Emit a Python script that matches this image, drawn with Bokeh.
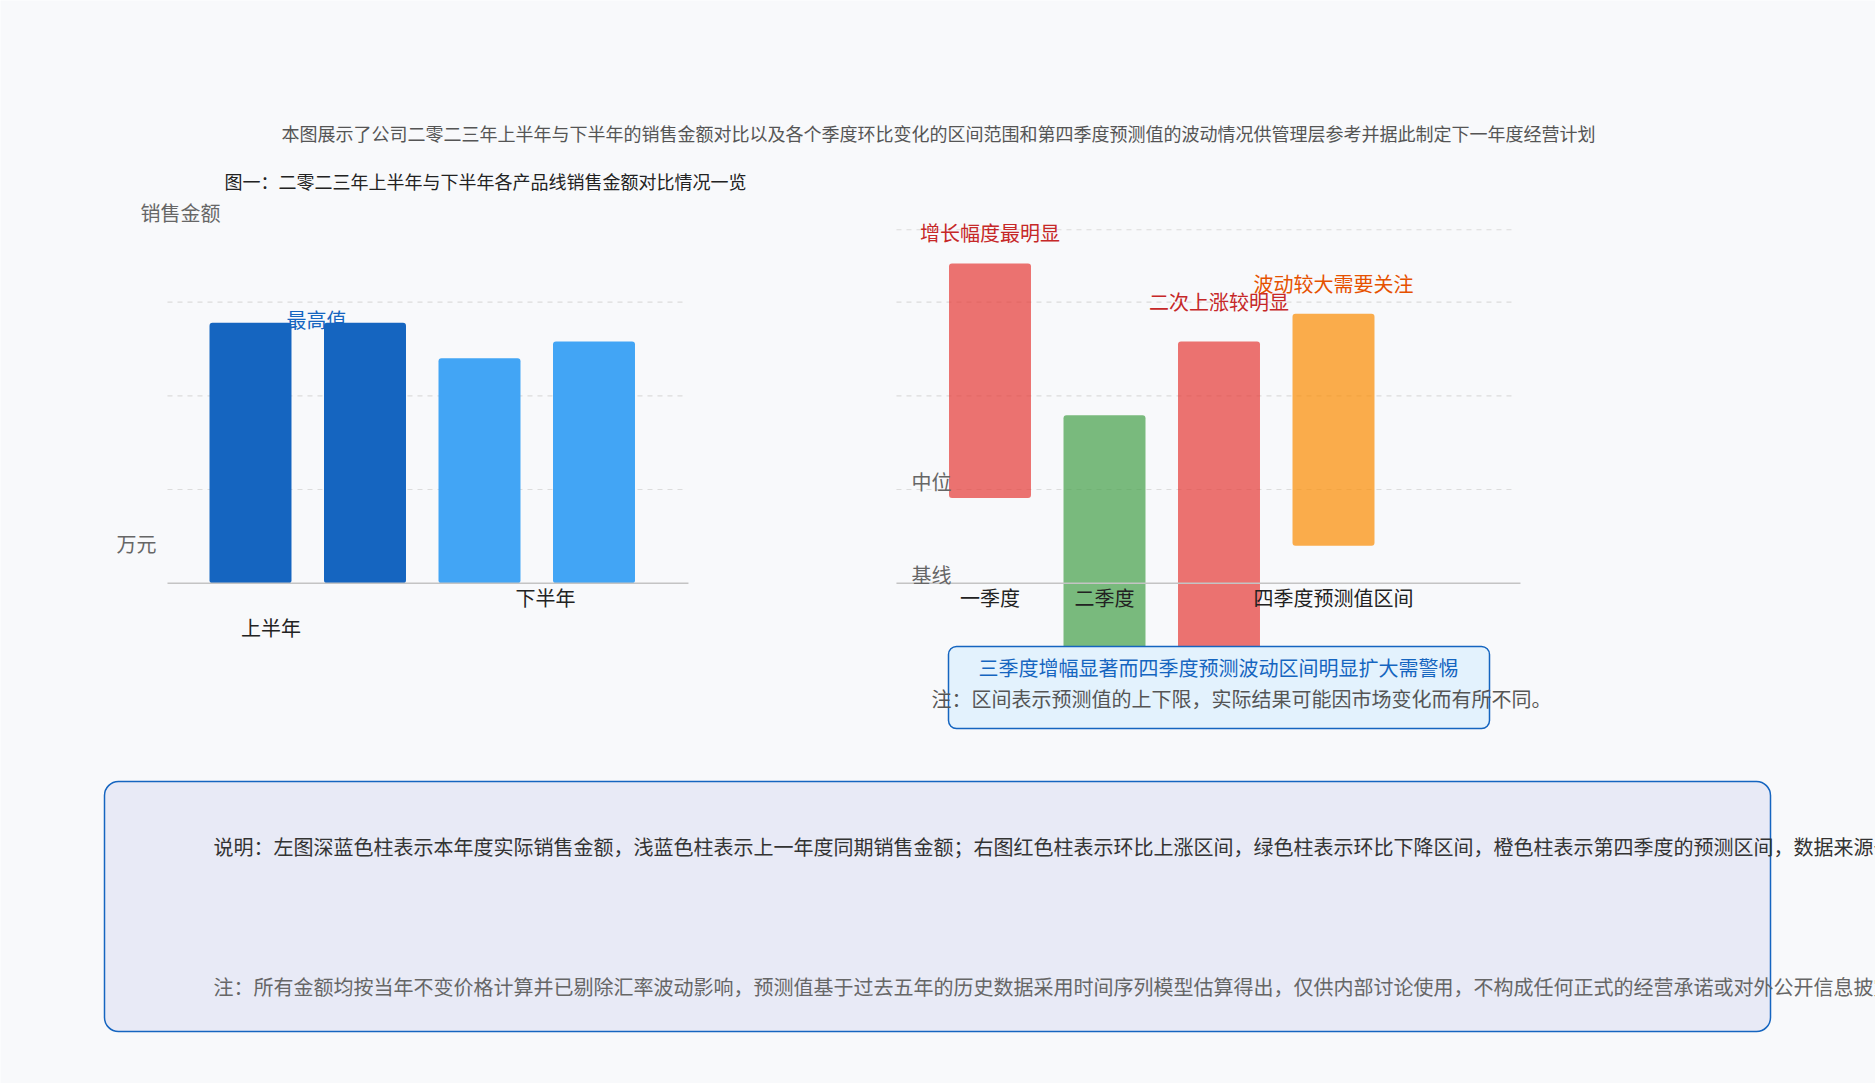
from bokeh.plotting import figure
from bokeh.models import Range1d, Label, BoxAnnotation
from bokeh.core.properties import value
from bokeh.embed import file_html
from bokeh.resources import INLINE

# ---------------- data ----------------
title_main = "本图展示了公司二零二三年上半年与下半年的销售金额对比以及各个季度环比变化的区间范围和第四季度预测值的波动情况供管理层参考并据此制定下一年度经营计划"
title_left = "图一：二零二三年上半年与下半年各产品线销售金额对比情况一览"
left_axis_title = "销售金额"
left_axis_unit = "万元"
left_groups = ["上半年", "下半年"]
left_note = "最高值"
left_x = [0, 1, 2, 3]
left_values = [69.5, 69.5, 60.0, 64.5]
left_series = ["dark", "dark", "light", "light"]

right_items = ["一季度", "二季度", "", "四季度预测值区间"]
right_x = [0, 1, 2, 3]
right_low = [22.7, -25.0, -25.0, 10.0]
right_high = [85.3, 44.8, 64.5, 71.9]
right_kind = ["up", "down", "up", "warn"]
right_notes = ["增长幅度最明显", "", "二次上涨较明显", "波动较大需要关注"]
right_axis_labels = ["中位", "基线"]

callout_title = "三季度增幅显著而四季度预测波动区间明显扩大需警惕"
callout_text = "注：区间表示预测值的上下限，实际结果可能因市场变化而有所不同。"
note_line1 = "说明：左图深蓝色柱表示本年度实际销售金额，浅蓝色柱表示上一年度同期销售金额；右图红色柱表示环比上涨区间，绿色柱表示环比下降区间，橙色柱表示第四季度的预测区间，数据来源于公司财务部门季度报告"
note_line2 = "注：所有金额均按当年不变价格计算并已剔除汇率波动影响，预测值基于过去五年的历史数据采用时间序列模型估算得出，仅供内部讨论使用，不构成任何正式的经营承诺或对外公开信息披露"

left_grid = [25, 50, 75]
right_grid = [25, 50, 75, 94.3]

# ---------------- style / layout ----------------
W, H = 1875, 1083
BG = "#f8f9fb"
FONT = "Noto Sans CJK SC"
FS_TITLE = 18
FS = 20
DY = -1.5             # small vertical nudge for all texts
PX_X = 114.5          # pixels per category step
LEFT_X0 = 250.0       # pixel x of left category 0
RIGHT_X0 = 989.5      # pixel x of right category 0
Y0 = 582.7            # pixel y (from top) of value 0
PX_Y = 3.748          # pixels per value unit
BAR_W = 0.716
LEFT_SPAN = (-0.725, 3.80, 3.825)
RIGHT_SPAN = (-0.817, 4.59, 4.633)
series_color = {"dark": "#1565c0", "light": "#42a5f5"}
kind_color = {"up": "#e53935", "down": "#43a047", "warn": "#fb8c00"}
note_color = {"up": "#c62828", "down": "#2e7d32", "warn": "#e65100"}
note_dy = [29, 0, 38.5, 29]

p = figure(width=W, height=H,
           x_range=Range1d(-LEFT_X0 / PX_X, (W - LEFT_X0) / PX_X),
           y_range=Range1d(-(H - Y0) / PX_Y, Y0 / PX_Y),
           output_backend="svg", toolbar_location=None, min_border=0,
           x_axis_location=None, y_axis_location=None,
           background_fill_color=BG, border_fill_color=BG,
           outline_line_color=None)
p.extra_x_ranges = {"right": Range1d(-RIGHT_X0 / PX_X, (W - RIGHT_X0) / PX_X)}
p.xgrid.visible = False
p.ygrid.visible = False

# grid lines
p.segment(x0=[LEFT_SPAN[0]] * len(left_grid), x1=[LEFT_SPAN[1]] * len(left_grid),
          y0=left_grid, y1=left_grid, line_color="#dcdcdc", line_width=1.2, line_dash="5 5")
p.segment(x0=[RIGHT_SPAN[0]] * len(right_grid), x1=[RIGHT_SPAN[1]] * len(right_grid),
          y0=right_grid, y1=right_grid, line_color="#dcdcdc", line_width=1.2, line_dash="5 5",
          x_range_name="right")

# bars
p.vbar(x=left_x, top=left_values, bottom=0, width=BAR_W,
       fill_color=[series_color[s] for s in left_series], line_color=None, border_radius=3)
p.vbar(x=right_x, top=right_high, bottom=right_low, width=BAR_W,
       fill_color=[kind_color[k] for k in right_kind], fill_alpha=0.7, line_color=None,
       border_radius=3, x_range_name="right")

# axis base lines
p.segment(x0=[LEFT_SPAN[0]], x1=[LEFT_SPAN[2]], y0=[0], y1=[0], line_color="#c4c4c4", line_width=1.5)
p.segment(x0=[RIGHT_SPAN[0]], x1=[RIGHT_SPAN[2]], y0=[0], y1=[0], line_color="#c4c4c4",
          line_width=1.5, x_range_name="right")


def lab(text, x, yc, fs, color, align="left"):
    p.add_layout(Label(x=x, y=H - (yc + DY), x_units="screen", y_units="screen",
                       text=text, text_font=FONT, text_font_size=f"{fs}px",
                       text_color=color, text_align=align, text_baseline="middle"))


# bar notes (right)
p.text(x=right_x, y=right_high, text=right_notes, x_range_name="right",
       y_offset=[-d + DY for d in note_dy],
       text_color=[note_color[k] for k in right_kind],
       text_font=value(FONT), text_font_size=f"{FS}px",
       text_align="center", text_baseline="middle")

# callout box
p.add_layout(BoxAnnotation(left=948, right=1489, top=H - 646, bottom=H - 728,
                           left_units="screen", right_units="screen",
                           top_units="screen", bottom_units="screen",
                           fill_color="#e3f2fd", fill_alpha=1.0,
                           line_color="#1565c0", line_alpha=1.0, line_width=1.5,
                           border_radius=8))
# bottom note box
p.add_layout(BoxAnnotation(left=104, right=1770, top=H - 781, bottom=H - 1031,
                           left_units="screen", right_units="screen",
                           top_units="screen", bottom_units="screen",
                           fill_color="#e8eaf6", fill_alpha=1.0,
                           line_color="#1565c0", line_alpha=1.0, line_width=1.5,
                           border_radius=14))

# titles
lab(title_main, 938, 134, FS_TITLE, "#555555", "center")
lab(title_left, 224, 182, FS_TITLE, "#222222")

# left chart texts
lab(left_axis_title, 140, 213, FS, "#666666")
lab(left_axis_unit, 116, 544, FS, "#666666")
lab(left_note, 316, 320, FS, "#1565c0", "center")
lab(left_groups[0], 270.5, 628, FS, "#222222", "center")
lab(left_groups[1], 545, 598, FS, "#222222", "center")

# right chart texts
lab(right_axis_labels[0], 911, 482, FS, "#666666")
lab(right_axis_labels[1], 911, 575, FS, "#666666")
for xi, name in zip(right_x, right_items):
    if name:
        p.add_layout(Label(x=xi, y=0, x_range_name="right", text=name, text_font=FONT,
                           text_font_size=f"{FS}px", text_color="#222222",
                           text_align="center", text_baseline="middle",
                           y_offset=-(598 + DY - Y0)))

# callout texts
lab(callout_title, 1218, 668, FS, "#1565c0", "center")
lab(callout_text, 1241, 699, FS, "#555555", "center")

# bottom notes
lab(note_line1, 213, 847, FS, "#333333")
lab(note_line2, 213, 987, FS, "#666666")

open("out.html", "w").write(file_html(p, INLINE))
